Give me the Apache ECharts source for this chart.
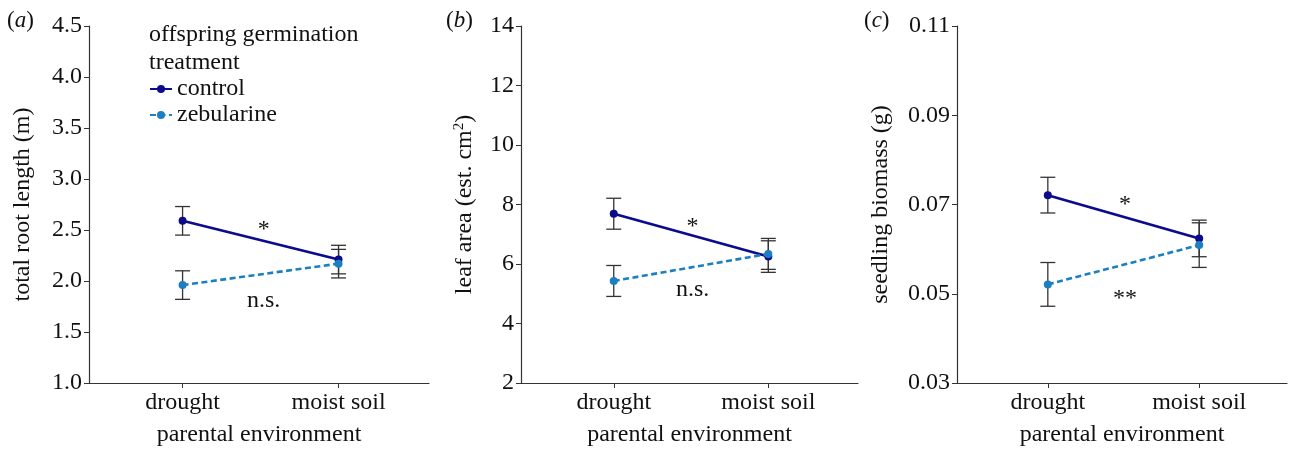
<!DOCTYPE html>
<html>
<head>
<meta charset="utf-8">
<script src="https://cdn.jsdelivr.net/npm/echarts@6/dist/echarts.min.js"></script>
<style>html,body{margin:0;padding:0;background:#fff}#c{width:1291px;height:452px}</style>
</head>
<body>
<div id="c"></div>
<script>
// ---- data ----
const categories = ['drought', 'moist soil'];
const catPos = [0, 1];
const seriesNames = ['control', 'zebularine'];

// (a) total root length (m)
const rootControl = [2.59, 2.21];
const rootControlSE = [0.14, 0.14];
const rootZeb = [1.96, 2.17];
const rootZebSE = [0.14, 0.14];
const rootTicks = [1.0, 4.5, 0.5];

// (b) leaf area (est. cm2)
const leafControl = [7.69, 6.25];
const leafControlSE = [0.52, 0.53];
const leafZeb = [5.43, 6.34];
const leafZebSE = [0.52, 0.52];
const leafTicks = [2, 14, 2];

// (c) seedling biomass (g)
const massControl = [0.0721, 0.0624];
const massControlSE = [0.0040, 0.0041];
const massZeb = [0.0521, 0.0609];
const massZebSE = [0.0049, 0.0050];
const massTicks = [0.03, 0.11, 0.02];

// significance annotations [x, y, text]
const rootNotes = [[0.52, 2.50, '*'], [0.52, 1.81, 'n.s.']];
const leafNotes = [[0.51, 7.25, '*'], [0.51, 5.15, 'n.s.']];
const massNotes = [[0.51, 0.0699, '*'], [0.51, 0.0490, '**']];

// ---- styling ----
const FONT = '"Liberation Serif", "DejaVu Serif", serif';
const FS = 24;
const TXT = '#111';
const AX = '#333';
const C_CTRL = '#0b0b8c';
const C_ZEB = '#1b7fc2';

const panels = [
  {grid: {left: 89, top: 26, width: 340, height: 357}, ctrl: rootControl, ctrlSE: rootControlSE, zeb: rootZeb, zebSE: rootZebSE, ticks: rootTicks, dec: 1, name: 'total root length (m)', nameGap: 54, notes: rootNotes},
  {grid: {left: 521, top: 26, width: 337, height: 357}, ctrl: leafControl, ctrlSE: leafControlSE, zeb: leafZeb, zebSE: leafZebSE, ticks: leafTicks, dec: 0, name: 'leaf area (est. cm{sup|2})', nameGap: 44, notes: leafNotes},
  {grid: {left: 957, top: 26, width: 330, height: 357}, ctrl: massControl, ctrlSE: massControlSE, zeb: massZeb, zebSE: massZebSE, ticks: massTicks, dec: 2, name: 'seedling biomass (g)', nameGap: 64, notes: massNotes}
];

function errRender(params, api) {
  const x = api.value(0), lo = api.value(1), hi = api.value(2);
  const a = api.coord([x, hi]), b = api.coord([x, lo]);
  const w = 7.5;
  const st = {stroke: AX, lineWidth: 1.3};
  return {type: 'group', children: [
    {type: 'line', shape: {x1: a[0], y1: a[1], x2: b[0], y2: b[1]}, style: st},
    {type: 'line', shape: {x1: a[0] - w, y1: a[1], x2: a[0] + w, y2: a[1]}, style: st},
    {type: 'line', shape: {x1: b[0] - w, y1: b[1], x2: b[0] + w, y2: b[1]}, style: st}
  ]};
}

const grids = [], xAxes = [], yAxes = [], series = [];
panels.forEach((p, i) => {
  grids.push(p.grid);
  xAxes.push({
    type: 'value', gridIndex: i, min: -0.6, max: 1.58,
    axisLine: {onZero: false, lineStyle: {color: AX, width: 1.2}},
    axisTick: {show: true, customValues: catPos, length: 5, lineStyle: {color: AX}},
    axisLabel: {customValues: catPos, formatter: v => categories[Math.round(v)], fontFamily: FONT, fontSize: FS, color: TXT, margin: 8},
    splitLine: {show: false},
    name: 'parental environment', nameLocation: 'middle', nameGap: 40,
    nameTextStyle: {fontFamily: FONT, fontSize: FS, color: TXT}
  });
  yAxes.push({
    type: 'value', gridIndex: i, min: p.ticks[0], max: p.ticks[1], interval: p.ticks[2],
    axisLine: {show: true, onZero: false, lineStyle: {color: AX, width: 1.2}},
    axisTick: {show: true, length: 5, lineStyle: {color: AX}},
    axisLabel: {formatter: v => v.toFixed(p.dec), fontFamily: FONT, fontSize: FS, color: TXT, margin: 7},
    splitLine: {show: false},
    name: p.name, nameLocation: 'middle', nameGap: p.nameGap, nameRotate: 90,
    nameTextStyle: {fontFamily: FONT, fontSize: FS, color: TXT, rich: {sup: {fontFamily: FONT, fontSize: 15, color: TXT, verticalAlign: 'top', padding: [0, 0, 10, 0]}}}
  });
  const errData = [];
  catPos.forEach((x, k) => {
    errData.push([x, p.ctrl[k] - p.ctrlSE[k], p.ctrl[k] + p.ctrlSE[k]]);
    errData.push([x, p.zeb[k] - p.zebSE[k], p.zeb[k] + p.zebSE[k]]);
  });
  series.push({type: 'custom', xAxisIndex: i, yAxisIndex: i, renderItem: errRender, data: errData, silent: true, z: 1});
  series.push({
    type: 'line', name: seriesNames[0], xAxisIndex: i, yAxisIndex: i,
    data: catPos.map((x, k) => [x, p.ctrl[k]]),
    symbol: 'circle', symbolSize: 8, showSymbol: true,
    lineStyle: {color: C_CTRL, width: 2.6}, itemStyle: {color: C_CTRL}, z: 3
  });
  series.push({
    type: 'line', name: seriesNames[1], xAxisIndex: i, yAxisIndex: i,
    data: catPos.map((x, k) => [x, p.zeb[k]]),
    symbol: 'circle', symbolSize: 8, showSymbol: true,
    lineStyle: {color: C_ZEB, width: 2.6, type: [6, 3.5]}, itemStyle: {color: C_ZEB}, z: 4
  });
  series.push({
    type: 'scatter', xAxisIndex: i, yAxisIndex: i, symbolSize: 0, silent: true,
    itemStyle: {opacity: 1},
    data: p.notes.map(n => ({value: [n[0], n[1]], name: n[2]})),
    label: {show: true, position: 'inside', formatter: d => d.name, fontFamily: FONT, fontSize: FS, color: TXT}
  });
});

const chart = echarts.init(document.getElementById('c'), null, {renderer: 'canvas'});
chart.setOption({
  animation: false,
  backgroundColor: '#fff',
  title: [{
    text: 'offspring germination\ntreatment', left: 144, top: 16,
    textStyle: {fontFamily: FONT, fontSize: FS, fontWeight: 'normal', color: TXT, lineHeight: 28}
  }],
  legend: {
    orient: 'vertical', left: 144, top: 71, itemWidth: 22, itemHeight: 10, itemGap: 0,
    data: seriesNames,
    textStyle: {fontFamily: FONT, fontSize: FS, color: TXT, lineHeight: 26}
  },
  graphic: [
    {type: 'text', left: 7, top: 9, style: {text: '({i|a})', fontFamily: FONT, fontSize: 23, fill: TXT, rich: {i: {fontFamily: FONT, fontStyle: 'italic', fontSize: 23, fill: TXT}}}},
    {type: 'text', left: 446, top: 9, style: {text: '({i|b})', fontFamily: FONT, fontSize: 23, fill: TXT, rich: {i: {fontFamily: FONT, fontStyle: 'italic', fontSize: 23, fill: TXT}}}},
    {type: 'text', left: 864, top: 9, style: {text: '({i|c})', fontFamily: FONT, fontSize: 23, fill: TXT, rich: {i: {fontFamily: FONT, fontStyle: 'italic', fontSize: 23, fill: TXT}}}}
  ],
  grid: grids, xAxis: xAxes, yAxis: yAxes, series: series
});
</script>
</body>
</html>
